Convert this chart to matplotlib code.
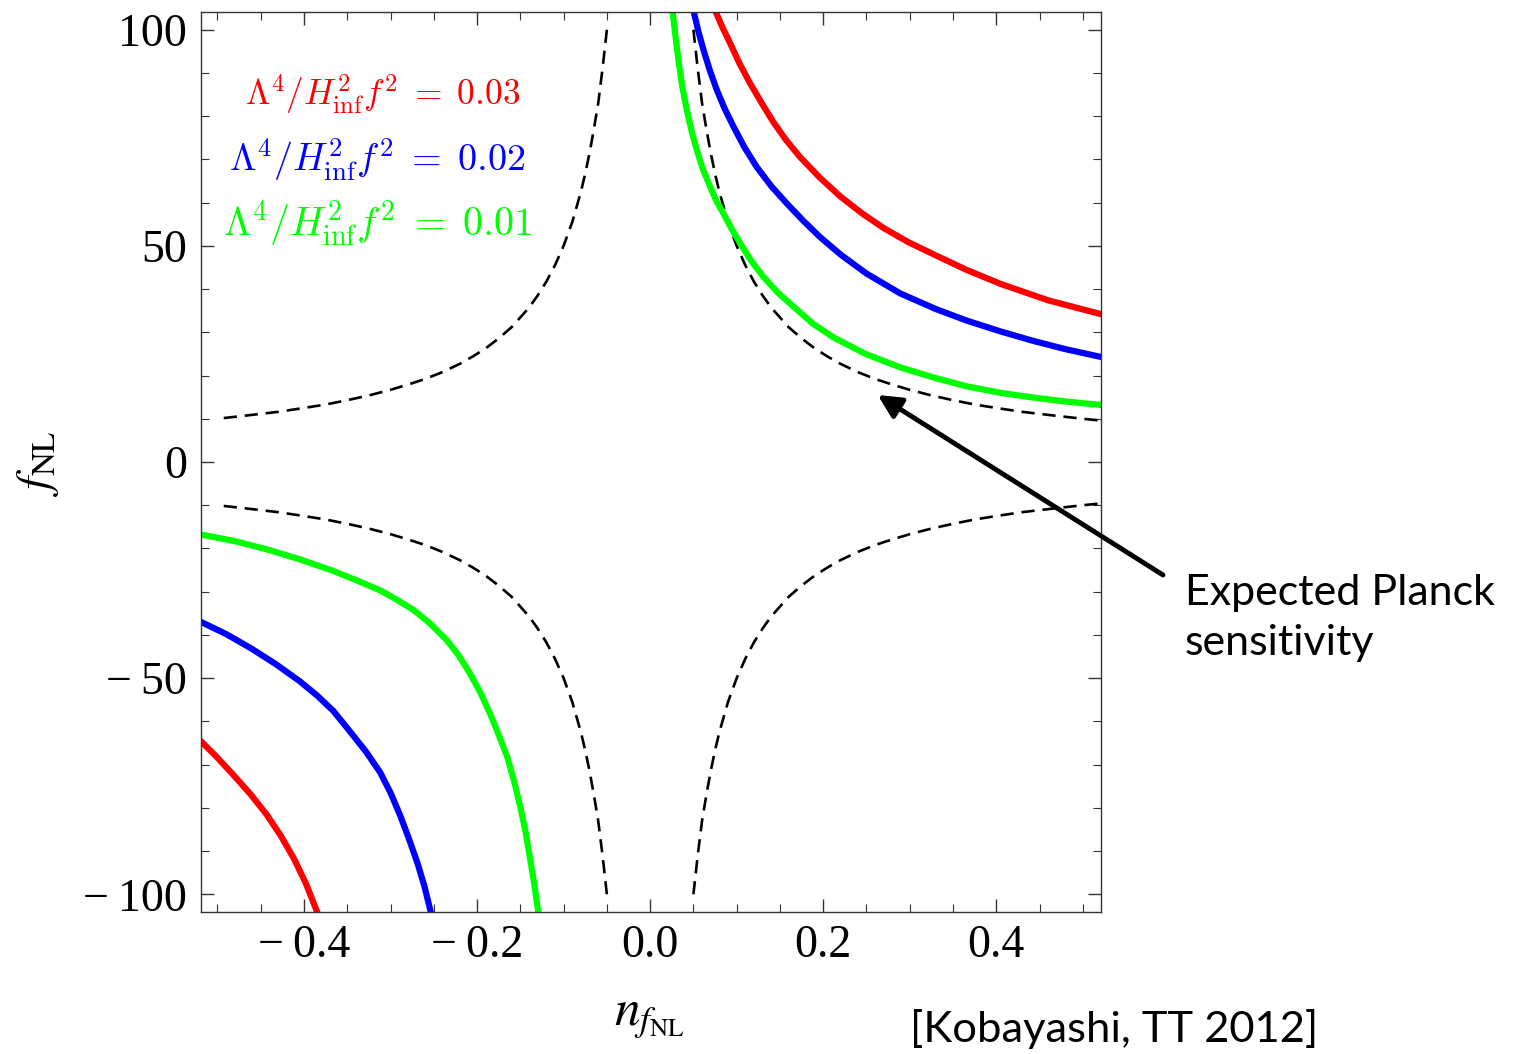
import numpy as np
import matplotlib
matplotlib.use('Agg')
import matplotlib.pyplot as plt
from matplotlib.ticker import MultipleLocator, FixedLocator

plt.rcParams['mathtext.fontset'] = 'cm'
plt.rcParams['font.family'] = ['Liberation Serif', 'DejaVu Serif']

# values
# dashed "expected Planck sensitivity" curve, |n| vs |fNL| (same in all 4 quadrants)
dash_n = [0.05, 0.055, 0.06, 0.065, 0.07, 0.075, 0.08, 0.09, 0.10, 0.11, 0.12, 0.13, 0.14,
          0.16, 0.175, 0.19, 0.205, 0.22, 0.24, 0.26, 0.28, 0.30, 0.325, 0.35, 0.375,
          0.40, 0.43, 0.46, 0.50, 0.52]
dash_f = [100, 91, 83, 77, 71.5, 66.7, 62.5, 55.5, 50, 45.5, 41.7, 38.5, 35.7,
          31.2, 28.6, 26.3, 24.4, 22.7, 20.8, 19.2, 17.9, 16.7, 15.4, 14.3, 13.3,
          12.5, 11.6, 10.9, 10.0, 9.6]

# upper right branches
green_up_n = [0.0258, 0.029, 0.0327, 0.037, 0.0424, 0.048, 0.0539, 0.061, 0.0693, 0.0765,
              0.0847, 0.094, 0.104, 0.117, 0.131, 0.148, 0.166, 0.188, 0.212, 0.25,
              0.289, 0.33, 0.366, 0.405, 0.443, 0.48, 0.521]
green_up_f = [104.5, 99.0, 93.0, 87.0, 81.4, 76.5, 72.2, 67.7, 63.7, 60.4,
              57.5, 54.0, 50.6, 46.5, 42.8, 39.1, 35.9, 32.0, 28.8, 24.9,
              21.9, 19.4, 17.5, 16.0, 14.9, 14.0, 13.2]
blue_up_n = [0.050, 0.0555, 0.0617, 0.069, 0.077, 0.086, 0.0963, 0.109, 0.123, 0.14,
             0.158, 0.177, 0.196, 0.22, 0.25, 0.289, 0.33, 0.366, 0.405, 0.443, 0.48, 0.521]
blue_up_f = [104.5, 99.8, 95.3, 90.6, 86.1, 81.8, 77.6, 72.8, 68.3, 63.8,
             59.8, 55.8, 52.1, 48.0, 43.6, 39.0, 35.4, 32.7, 30.2, 28.0, 26.1, 24.3]
red_up_n = [0.075, 0.083, 0.0924, 0.103, 0.1155, 0.129, 0.1425, 0.157, 0.173, 0.196,
            0.22, 0.245, 0.270, 0.298, 0.328, 0.365, 0.405, 0.46, 0.521]
red_up_f = [104.5, 100.8, 96.9, 92.3, 87.6, 83.0, 78.6, 74.5, 70.6, 65.8,
            61.4, 57.5, 54.1, 50.9, 48.0, 44.5, 41.2, 37.4, 34.2]

# lower left branches
green_lo_n = [-0.521, -0.48, -0.443, -0.405, -0.366, -0.34, -0.312, -0.293, -0.273, -0.254,
              -0.235, -0.221, -0.208, -0.196, -0.185, -0.175, -0.165, -0.157, -0.150,
              -0.144, -0.139, -0.134, -0.129]
green_lo_f = [-16.7, -18.3, -20.2, -22.5, -25.2, -27.3, -29.7, -31.8, -34.3, -37.4,
              -41.2, -44.8, -49.0, -53.4, -58.2, -63.1, -68.3, -74.0, -79.8,
              -85.5, -91.4, -97.5, -104.5]
blue_lo_n = [-0.521, -0.49, -0.462, -0.433, -0.405, -0.385, -0.366, -0.347, -0.328, -0.312,
             -0.300, -0.289, -0.279, -0.269, -0.261, -0.253]
blue_lo_f = [-36.8, -39.8, -43.0, -46.7, -50.7, -54.0, -57.6, -62.3, -67.1, -71.8,
             -76.5, -81.7, -87.0, -92.7, -98.0, -104.5]
red_lo_n = [-0.521, -0.50, -0.482, -0.462, -0.443, -0.427, -0.412, -0.398, -0.384]
red_lo_f = [-64.2, -68.4, -72.3, -76.8, -81.6, -86.4, -91.6, -97.4, -104.5]

labels = [r'$\Lambda^4/H_{\rm inf}^2 f^2 \;=\; 0.03$',
          r'$\Lambda^4/H_{\rm inf}^2 f^2 \;=\; 0.02$',
          r'$\Lambda^4/H_{\rm inf}^2 f^2 \;=\; 0.01$']
colors = ['#ff0000', '#0000ff', '#00ff00']
label_sizes = [25.5, 27.5, 28.8]

xticks = [-0.4, -0.2, 0.0, 0.2, 0.4]
yticks = [-100, -50, 0, 50, 100]

fig = plt.figure(figsize=(15.13, 10.54), dpi=100)
W, H = 1513, 1054
ax = fig.add_axes([201 / W, 1 - 912 / H, 900 / W, 900 / H])

dn = np.array(dash_n)
df = np.array(dash_f)
dk = dict(color='black', lw=1.9, dashes=(5, 3))
ax.plot(dn, df, **dk)
ax.plot(dn, -df, **dk)
ax.plot(-dn[:-1], df[:-1], **dk)
ax.plot(-dn[:-1], -df[:-1], **dk)

ck = dict(lw=4.5, solid_joinstyle='round')
ax.plot(red_up_n, red_up_f, color=colors[0], **ck)
ax.plot(blue_up_n, blue_up_f, color=colors[1], **ck)
ax.plot(green_up_n, green_up_f, color=colors[2], **ck)
ax.plot(red_lo_n, red_lo_f, color=colors[0], **ck)
ax.plot(blue_lo_n, blue_lo_f, color=colors[1], **ck)
ax.plot(green_lo_n, green_lo_f, color=colors[2], **ck)

ax.set_xlim(-0.519, 0.521)
ax.set_ylim(-104.1, 104.1)

ax.xaxis.set_major_locator(FixedLocator(xticks))
ax.xaxis.set_minor_locator(MultipleLocator(0.05))
ax.yaxis.set_major_locator(FixedLocator(yticks))
ax.yaxis.set_minor_locator(MultipleLocator(10))

def lab(v, fmt):
    s = fmt.format(abs(v))
    return ('\u2212\u2009' + s) if v < 0 else s

ax.set_xticklabels([lab(v, '{:.1f}') for v in xticks])
ax.set_yticklabels([lab(v, '{:d}') for v in yticks])
ax.tick_params(which='both', direction='in', top=True, right=True,
               labelsize=33, color='#333333')
ax.tick_params(which='major', length=9.5, width=1)
ax.tick_params(which='minor', length=5.5, width=0.8)
ax.tick_params(axis='x', pad=9)
ax.tick_params(axis='y', pad=10)
for sp in ax.spines.values():
    sp.set_linewidth(1)
    sp.set_color('#333333')

# legend-like labels
label_x = [383, 377, 378]
label_y = [105, 171, 236]
for t, c, s, lx, ly in zip(labels, colors, label_sizes, label_x, label_y):
    fig.text(lx / W, 1 - ly / H, t, color=c, fontsize=s,
             ha='center', va='baseline')

# axis labels
fig.text(38 / W, 1 - 463 / H, r'$f_{\rm NL}$', fontsize=34, rotation=90,
         ha='center', va='center', math_fontfamily='stix')
fig.text(649 / W, 1 - 1018 / H, r'$n_{f_{\rm NL}}$', fontsize=37,
         ha='center', va='center', math_fontfamily='stix')

# annotation
ax.annotate('', xy=(0.263, 15.5), xycoords='data',
            xytext=(1163 / W, 1 - 575 / H), textcoords='figure fraction',
            arrowprops=dict(arrowstyle='-|>,head_length=1.4,head_width=0.7',
                            color='black', lw=3.5, shrinkA=0, shrinkB=0))
fig.text(1185 / W, 1 - 605 / H, 'Expected Planck', fontsize=31,
         family='Lato', ha='left', va='baseline')
fig.text(1185 / W, 1 - 655 / H, 'sensitivity', fontsize=31,
         family='Lato', ha='left', va='baseline')
fig.text(910 / W, 1 - 1042 / H, '[Kobayashi, TT 2012]', fontsize=31.3,
         family='Lato', ha='left', va='baseline')

fig.savefig('out.png', dpi=100)
